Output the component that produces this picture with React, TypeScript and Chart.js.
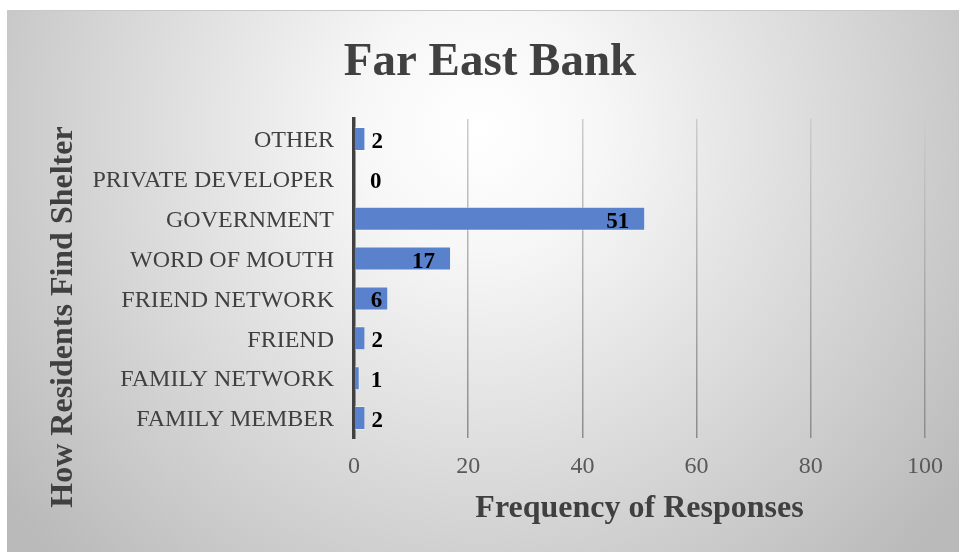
import React, { useEffect, useRef } from "react";
import { Chart, registerables } from "chart.js";

Chart.register(...registerables);

const chartTitle = "Far East Bank";
const xAxisTitle = "Frequency of Responses";
const yAxisTitle = "How Residents Find Shelter";
const categories = [
  "OTHER",
  "PRIVATE DEVELOPER",
  "GOVERNMENT",
  "WORD OF MOUTH",
  "FRIEND NETWORK",
  "FRIEND",
  "FAMILY NETWORK",
  "FAMILY MEMBER",
];
const responses = [2, 0, 51, 17, 6, 2, 1, 2];
const xMin = 0;
const xMax = 100;
const xStep = 20;

const SERIF = "'Liberation Serif', 'Times New Roman', serif";

const backgroundPlugin = {
  id: "bgFrame",
  beforeDraw(chart: any) {
    const { ctx, width, height } = chart;
    ctx.save();
    ctx.fillStyle = "#ffffff";
    ctx.fillRect(0, 0, width, height);
    const g = ctx.createRadialGradient(480, 130, 0, 480, 130, 600);
    g.addColorStop(0, "#ffffff");
    g.addColorStop(0.2, "#f7f7f7");
    g.addColorStop(1, "#bababa");
    ctx.fillStyle = g;
    ctx.fillRect(7, 10, width - 7, height - 10);
    ctx.strokeStyle = "#c8c8c8";
    ctx.lineWidth = 1;
    ctx.beginPath();
    ctx.moveTo(7, 10.5);
    ctx.lineTo(width, 10.5);
    ctx.stroke();
    ctx.restore();
  },
};

const textPlugin = {
  id: "texts",
  afterDatasetsDraw(chart: any) {
    const { ctx } = chart;
    const meta = chart.getDatasetMeta(0);
    const values = chart.data.datasets[0].data as number[];
    ctx.save();
    ctx.font = `bold 23px ${SERIF}`;
    ctx.fillStyle = "#000000";
    ctx.textBaseline = "middle";
    meta.data.forEach((bar: any, i: number) => {
      const v = values[i];
      const txt = String(v);
      const tw = ctx.measureText(txt).width;
      const base = bar.base;
      if (v >= 5) {
        const right = Math.max(bar.x - 16, base + tw + 16);
        ctx.textAlign = "right";
        ctx.fillText(txt, right, bar.y + 3);
      } else {
        const left = Math.max(bar.x + 6, base + 16);
        ctx.textAlign = "left";
        ctx.fillText(txt, left, bar.y + 3);
      }
    });
    ctx.restore();
  },
  afterDraw(chart: any) {
    const { ctx, chartArea } = chart;
    ctx.save();
    ctx.fillStyle = "#404040";
    ctx.textBaseline = "alphabetic";
    // main title
    ctx.font = `bold 47px ${SERIF}`;
    ctx.textAlign = "center";
    ctx.fillText(chartTitle, 490, 75);
    // x title
    ctx.font = `bold 32px ${SERIF}`;
    ctx.fillText(xAxisTitle, (chartArea.left + chartArea.right) / 2, 517);
    // y title
    ctx.translate(72, 317);
    ctx.rotate(-Math.PI / 2);
    ctx.fillText(yAxisTitle, 0, 0);
    ctx.restore();
  },
};

export default function App() {
  const ref = useRef<HTMLCanvasElement | null>(null);
  useEffect(() => {
    if (!ref.current) return;
    const chart = new Chart(ref.current, {
      type: "bar",
      data: {
        labels: categories,
        datasets: [
          {
            data: responses,
            backgroundColor: "#5a82cc",
            borderColor: "rgba(255,255,255,0.45)",
            borderWidth: 1,
            barPercentage: 0.6,
            categoryPercentage: 1,
          },
        ],
      },
      options: {
        indexAxis: "y",
        responsive: false,
        animation: false,
        devicePixelRatio: 1,
        layout: { padding: { top: 119, right: 34, bottom: 0, left: 0 } },
        plugins: {
          legend: { display: false },
          title: { display: false },
          tooltip: { enabled: false },
        },
        scales: {
          x: {
            type: "linear",
            min: xMin,
            max: xMax,
            ticks: {
              stepSize: xStep,
              color: "#595959",
              font: { family: SERIF, size: 24 },
              padding: 14,
            },
            grid: {
              drawTicks: false,
              lineWidth: 1.5,
              color: (c: any) => {
                const ch = c.chart;
                const ca = ch.chartArea;
                if (!ca) return "#b0b0b0";
                const g = ch.ctx.createLinearGradient(0, ca.top, 0, ca.bottom);
                g.addColorStop(0, "#cccccc");
                g.addColorStop(1, "#8c8c8c");
                return g;
              },
            },
            border: { display: false },
            afterFit: (s: any) => {
              s.height = 114;
            },
          },
          y: {
            type: "category",
            ticks: {
              color: "#404040",
              font: { family: SERIF, size: 24 },
              padding: 20,
              labelOffset: 2,
            },
            grid: { display: false, drawTicks: false },
            border: { display: true, color: "#404040", width: 3.5 },
            afterFit: (s: any) => {
              s.width = 354;
            },
          },
        },
      },
      plugins: [backgroundPlugin, textPlugin],
    });
    return () => chart.destroy();
  }, []);
  return (
    <div style={{ position: "absolute", left: 0, top: 0, width: 959, height: 552 }}>
      <canvas ref={ref} width={959} height={552} style={{ display: "block", width: 959, height: 552 }} />
    </div>
  );
}
